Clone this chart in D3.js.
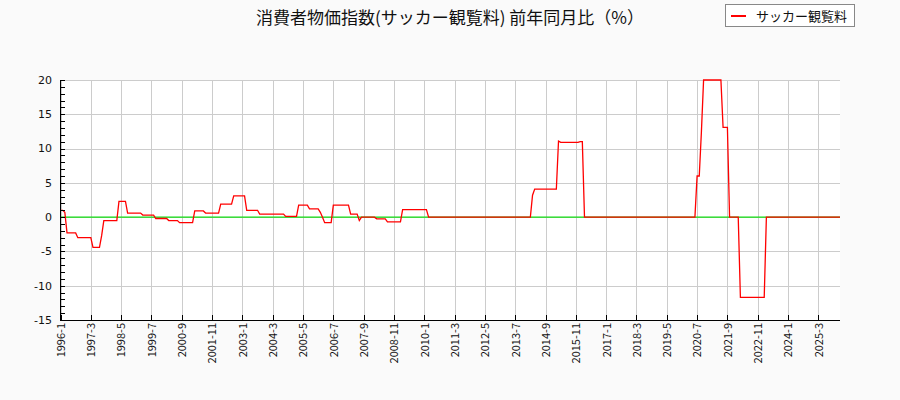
<!DOCTYPE html>
<html>
<head>
<meta charset="utf-8">
<script src="https://cdn.jsdelivr.net/npm/d3@7"></script>
<style>
  html, body { margin: 0; padding: 0; background: #fafafa; }
  svg { display: block; }
</style>
</head>
<body>
<svg id="chart" width="900" height="400"></svg>
<script>
// ---- data (monthly, 前年同月比 %) ----
const startYear = 1996;
const y1996 = [1.0, 1.0, 0.7, -2.3, -2.3, -2.3, -2.3, -2.3, -3.0, -3.0, -3.0, -3.0];
const y1997 = [-3.0, -3.0, -3.0, -4.4, -4.4, -4.4, -4.4, -2.7, -0.5, -0.5, -0.5, -0.5];
const y1998 = [-0.5, -0.5, -0.5, 2.3, 2.3, 2.3, 2.3, 0.6, 0.6, 0.6, 0.6, 0.6];
const y1999 = [0.6, 0.6, 0.3, 0.3, 0.3, 0.3, 0.3, 0.3, -0.2, -0.2, -0.2, -0.2];
const y2000 = [-0.2, -0.2, -0.5, -0.5, -0.5, -0.5, -0.5, -0.8, -0.8, -0.8, -0.8, -0.8];
const y2001 = [-0.8, -0.8, 0.9, 0.9, 0.9, 0.9, 0.9, 0.6, 0.6, 0.6, 0.6, 0.6];
const y2002 = [0.6, 0.6, 1.9, 1.9, 1.9, 1.9, 1.9, 1.9, 3.1, 3.1, 3.1, 3.1];
const y2003 = [3.1, 3.1, 1.0, 1.0, 1.0, 1.0, 1.0, 1.0, 0.45, 0.45, 0.45, 0.45];
const y2004 = [0.45, 0.45, 0.45, 0.45, 0.45, 0.45, 0.45, 0.45, 0.1, 0.1, 0.1, 0.1];
const y2005 = [0.1, 0.1, 1.75, 1.75, 1.75, 1.75, 1.75, 1.2, 1.2, 1.2, 1.2, 1.2];
const y2006 = [0.7, 0.0, -0.8, -0.8, -0.8, -0.8, 1.75, 1.75, 1.75, 1.75, 1.75, 1.75];
const y2007 = [1.75, 1.75, 0.45, 0.45, 0.45, 0.45, -0.5, 0, 0, 0, 0, 0];
const y2008 = [0, 0, -0.25, -0.25, -0.25, -0.25, -0.25, -0.7, -0.7, -0.7, -0.7, -0.7];
const y2009 = [-0.7, -0.7, 1.1, 1.1, 1.1, 1.1, 1.1, 1.1, 1.1, 1.1, 1.1, 1.1];
const y2010 = [1.1, 1.1, 0, 0, 0, 0, 0, 0, 0, 0, 0, 0];
const y2011 = [0, 0, 0, 0, 0, 0, 0, 0, 0, 0, 0, 0];
const y2012 = [0, 0, 0, 0, 0, 0, 0, 0, 0, 0, 0, 0];
const y2013 = [0, 0, 0, 0, 0, 0, 0, 0, 0, 0, 0, 0];
const y2014 = [0, 0, 3.2, 4.1, 4.1, 4.1, 4.1, 4.1, 4.1, 4.1, 4.1, 4.1];
const y2015 = [4.1, 4.1, 11.1, 10.9, 10.9, 10.9, 10.9, 10.9, 10.9, 10.9, 10.9, 10.9];
const y2016 = [11.0, 11.0, 0, 0, 0, 0, 0, 0, 0, 0, 0, 0];
const y2017 = [0, 0, 0, 0, 0, 0, 0, 0, 0, 0, 0, 0];
const y2018 = [0, 0, 0, 0, 0, 0, 0, 0, 0, 0, 0, 0];
const y2019 = [0, 0, 0, 0, 0, 0, 0, 0, 0, 0, 0, 0];
const y2020 = [0, 0, 0, 0, 0, 0, 6.0, 6.0, 12.5, 20.0, 20.0, 20.0];
const y2021 = [20.0, 20.0, 20.0, 20.0, 20.0, 20.0, 13.1, 13.1, 13.1, 0, 0, 0];
const y2022 = [0, 0, -11.7, -11.7, -11.7, -11.7, -11.7, -11.7, -11.7, -11.7, -11.7, -11.7];
const y2023 = [-11.7, -11.7, 0, 0, 0, 0, 0, 0, 0, 0, 0, 0];
const y2024 = [0, 0, 0, 0, 0, 0, 0, 0, 0, 0, 0, 0];
const y2025 = [0, 0, 0, 0, 0, 0, 0, 0, 0, 0, 0, 0];
const y2026 = [0];

const xTickLabels = ["1996-1","1997-3","1998-5","1999-7","2000-9","2001-11","2003-1",
  "2004-3","2005-5","2006-7","2007-9","2008-11","2010-1","2011-3","2012-5","2013-7",
  "2014-9","2015-11","2017-1","2018-3","2019-5","2020-7","2021-9","2022-11","2024-1","2025-3"];
const yTickValues = [-15, -10, -5, 0, 5, 10, 15, 20];
const seriesName = "サッカー観覧料";
const titleText = "消費者物価指数(サッカー観覧料) 前年同月比（%）";

// ---- build series ----
const years = [y1996,y1997,y1998,y1999,y2000,y2001,y2002,y2003,y2004,y2005,y2006,y2007,
  y2008,y2009,y2010,y2011,y2012,y2013,y2014,y2015,y2016,y2017,y2018,y2019,y2020,y2021,
  y2022,y2023,y2024,y2025,y2026];
const data = [];
years.forEach((arr, yi) => arr.forEach((v, mi) => data.push({ m: yi * 12 + mi, v })));
const labelToIndex = s => { const [Y, M] = s.split("-").map(Number); return (Y - startYear) * 12 + (M - 1); };

// ---- layout ----
const svg = d3.select("#chart");
const L = 60.5, R = 840, T = 80, B = 320;
const x = d3.scaleLinear().domain([0, 360]).range([L, R]);
const y = d3.scaleLinear().domain([-15, 20]).range([B, T]);

svg.append("rect").attr("width", 900).attr("height", 400).attr("fill", "#fafafa");
svg.append("rect").attr("x", L).attr("y", T).attr("width", R - L).attr("height", B - T).attr("fill", "#ffffff");

// grid
const grid = svg.append("g").attr("stroke", "#cccccc").attr("stroke-width", 1).attr("shape-rendering", "crispEdges");
xTickLabels.forEach(s => {
  const px = Math.round(x(labelToIndex(s))) + 0.5;
  grid.append("line").attr("x1", px).attr("x2", px).attr("y1", T).attr("y2", B);
});
yTickValues.forEach(v => {
  const py = Math.round(y(v)) + 0.5;
  grid.append("line").attr("x1", L).attr("x2", R).attr("y1", py).attr("y2", py);
});

// zero line
svg.append("line").attr("x1", L).attr("x2", R).attr("y1", y(0)).attr("y2", y(0))
  .attr("stroke", "#11dd11").attr("stroke-width", 1.4);

// series line
const line = d3.line().x(d => x(d.m)).y(d => y(d.v));
svg.append("path").datum(data).attr("d", line).attr("fill", "none")
  .attr("stroke", "#ff0000").attr("stroke-width", 1.3).attr("stroke-linejoin", "miter");

// axes
const axisG = svg.append("g").attr("shape-rendering", "crispEdges");
axisG.append("line").attr("x1", L).attr("x2", L).attr("y1", T).attr("y2", B + 0.5).attr("stroke", "#000");
axisG.append("line").attr("x1", L).attr("x2", R).attr("y1", B + 0.5).attr("y2", B + 0.5).attr("stroke", "#000");

// y minor ticks every 1
d3.range(-15, 21, 1).forEach(v => {
  const py = Math.round(y(v)) + 0.5;
  axisG.append("line").attr("x1", L).attr("x2", L + 4).attr("y1", py).attr("y2", py).attr("stroke", "#000");
});
// y labels
svg.append("g").selectAll("text").data(yTickValues).join("text")
  .attr("x", 52).attr("y", d => y(d)).attr("dy", "0.35em")
  .attr("text-anchor", "end")
  .attr("font-family", "DejaVu Sans").attr("font-size", 11).attr("fill", "#111")
  .text(d => d);

// x ticks + labels
xTickLabels.forEach(s => {
  const px = Math.round(x(labelToIndex(s))) + 0.5;
  axisG.append("line").attr("x1", px).attr("x2", px).attr("y1", B).attr("y2", B - 5).attr("stroke", "#000");
});
svg.append("g").selectAll("text").data(xTickLabels).join("text")
  .attr("transform", d => `translate(${x(labelToIndex(d)) + 0.5},${B + 3}) rotate(-90)`)
  .attr("dy", "0.35em").attr("text-anchor", "end")
  .attr("font-family", "Noto Sans CJK JP").attr("font-size", 11).attr("fill", "#111")
  .text(d => d);

// title
svg.append("text").attr("x", 450).attr("y", 24).attr("text-anchor", "middle")
  .attr("font-family", "Noto Sans CJK JP").attr("font-size", 17).attr("fill", "#111")
  .text(titleText);

// legend
const lg = svg.append("g");
lg.append("rect").attr("x", 725.5).attr("y", 4.5).attr("width", 129).attr("height", 22)
  .attr("fill", "#ffffff").attr("stroke", "#888").attr("shape-rendering", "crispEdges");
lg.append("line").attr("x1", 731).attr("x2", 746).attr("y1", 16).attr("y2", 16)
  .attr("stroke", "#ff0000").attr("stroke-width", 2);
lg.append("text").attr("x", 756).attr("y", 16).attr("dy", "0.35em")
  .attr("font-family", "Noto Sans CJK JP").attr("font-size", 13).attr("fill", "#111")
  .text(seriesName);
</script>
</body>
</html>
